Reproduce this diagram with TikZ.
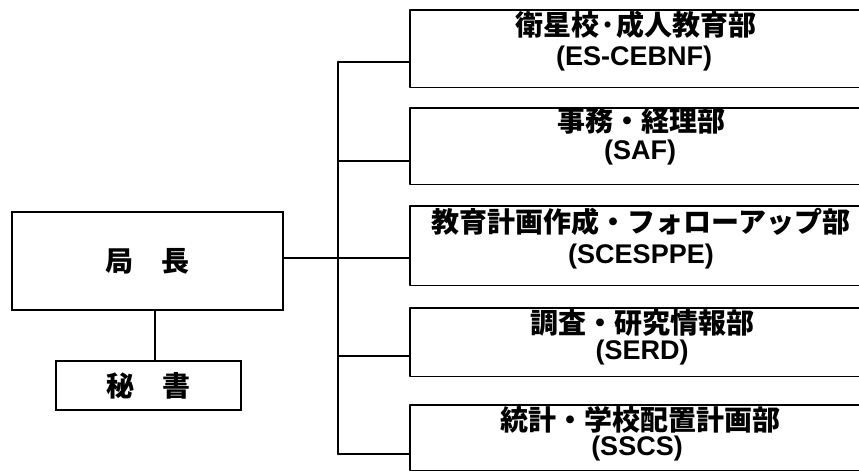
\documentclass[tikz,border=0pt]{standalone}
\usepackage{fontspec}
\setmainfont{Liberation Sans}
\newfontfamily\cjk{Noto Sans CJK JP}
\begin{document}
\begin{tikzpicture}[x=1pt,y=-1pt,
  boxline/.style={line width=1.8pt, line join=round, line cap=round},
  trunkline/.style={line width=2.8pt, line cap=round},
  branchline/.style={line width=1.6pt},
  area/.style={draw=none, inner sep=0pt, anchor=north west, minimum width=449pt},
  headbox/.style={draw, line width=1.8pt, inner sep=0pt, anchor=north west,
    font=\cjk\bfseries\fontsize{28}{30}\selectfont},
  jp/.style={inner sep=0pt, anchor=center, font=\cjk\bfseries\fontsize{28}{30}\selectfont},
  lat/.style={inner sep=0pt, anchor=center, font=\bfseries\fontsize{27}{30}\selectfont}
]
\useasboundingbox (0,0) rectangle (859,472);

% left boxes
\node[headbox, minimum width=271pt, minimum height=98pt] (chief) at (11,211) {局　長};
\node[headbox, minimum width=185pt, minimum height=49pt] (sec) at (55,360) {秘　書};
\coordinate (sx) at (155,330);
\draw[trunkline] (sx |- chief.south) -- (sx |- sec.north);

% department areas
\node[area, minimum height=77pt] (b1) at (410,10) {};
\node[area, minimum height=76pt] (b2) at (410,108) {};
\node[area, minimum height=79pt] (b3) at (410,206) {};
\node[area, minimum height=68pt] (b4) at (410,308) {};
\node[area, minimum height=65pt] (b5) at (410,405) {};
\foreach \b in {b1,b2,b3,b4,b5}{
  \draw[boxline] (\b.north east) -- (\b.north west) -- (\b.south west) -- (\b.south east);
}

% trunk and branches
\coordinate (j1) at (338,62);
\coordinate (j2) at (338,161);
\coordinate (j3) at (338,258);
\coordinate (j4) at (338,356);
\coordinate (j5) at (338,454);
\draw[trunkline] (j1) -- (j5);
\draw[branchline] (j1) -- (j1 -| b1.west);
\draw[branchline] (j2) -- (j2 -| b2.west);
\draw[branchline] (chief.east |- j3) -- (j3) -- (j3 -| b3.west);
\draw[branchline] (j4) -- (j4 -| b4.west);
\draw[branchline] (j5) -- (j5 -| b5.west);

% department texts
\node[jp]  (t1a) at (636,25)  {衛星校·成人教育部};
\node[lat] (t1b) at (634,59)  {(ES-CEBNF)};
\node[jp]  (t2a) at (641,121) {事務・経理部};
\node[lat] (t2b) at (640,153) {(SAF)};
\node[jp]  (t3a) at (641,222) {教育計画作成・フォローアップ部};
\node[lat] (t3b) at (641,257) {(SCESPPE)};
\node[jp]  (t4a) at (642,323) {調査・研究情報部};
\node[lat] (t4b) at (642,353) {(SERD)};
\node[jp]  (t5a) at (640,420) {統計・学校配置計画部};
\node[lat] (t5b) at (637,449) {(SSCS)};
\end{tikzpicture}
\end{document}
